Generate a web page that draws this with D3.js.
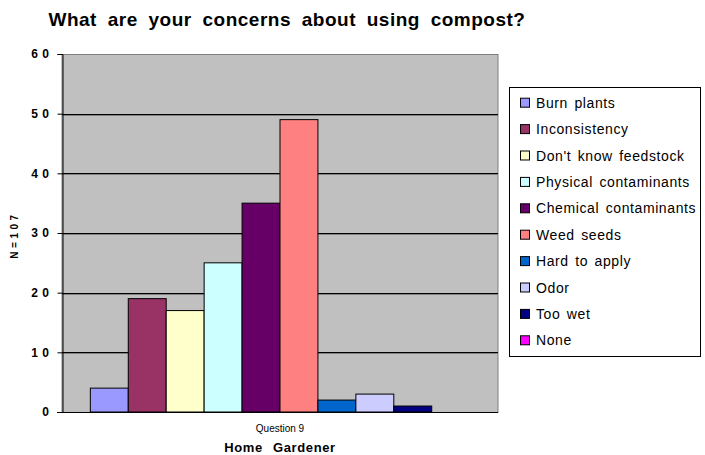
<!DOCTYPE html>
<html><head><meta charset="utf-8">
<script src="https://cdn.jsdelivr.net/npm/d3@7"></script>
<style>body{margin:0;background:#fff;} svg{display:block;font-family:"Liberation Sans",Arial,sans-serif;}</style>
</head><body>
<script>
const categories = ["Question 9"];
const seriesNames = ["Burn plants","Inconsistency","Don't know feedstock","Physical contaminants","Chemical contaminants","Weed seeds","Hard to apply","Odor","Too wet","None"];
const seriesValues = [4,19,17,25,35,49,2,3,1,0];
const seriesColors = ["#9999FF","#993366","#FFFFCC","#CCFFFF","#660066","#FF8080","#0066CC","#CCCCFF","#000080","#FF00FF"];
const yTicks = [0,10,20,30,40,50,60];
const title = "What are your concerns about using compost?";
const xTitle = "Home Gardener";
const yTitle = "N=107";

const W = 705, H = 455;
const plot = {left:62, right:498, top:54, bottom:412};
const svg = d3.select("body").append("svg").attr("width",W).attr("height",H);

const x0 = d3.scaleBand().domain(categories).range([plot.left, plot.right]).paddingInner(0).paddingOuter(0.0747);
const x1 = d3.scaleBand().domain(seriesNames).range([0, x0.bandwidth()]);
const y = d3.scaleLinear().domain([0,60]).range([plot.bottom, plot.top]);

// plot background
svg.append("rect").attr("x",plot.left).attr("y",plot.top+0.5).attr("width",plot.right-plot.left).attr("height",plot.bottom-plot.top)
  .attr("fill","#C0C0C0").attr("stroke","#808080").attr("stroke-width",1);

// gridlines (dark line with grey shadow)
const grid = svg.append("g");
const gv = yTicks.filter(d=>d>0 && d<60);
grid.selectAll("line.sh").data(gv).join("line").attr("class","sh")
  .attr("x1",plot.left).attr("x2",plot.right)
  .attr("y1",d=>Math.round(y(d))+1.5).attr("y2",d=>Math.round(y(d))+1.5)
  .attr("stroke","#808080").attr("stroke-width",1);
grid.selectAll("line.gl").data(gv).join("line").attr("class","gl")
  .attr("x1",plot.left).attr("x2",plot.right)
  .attr("y1",d=>Math.round(y(d))+0.5).attr("y2",d=>Math.round(y(d))+0.5)
  .attr("stroke","#000").attr("stroke-width",1);

// bars
const data = seriesNames.map((n,i)=>({name:n, value:seriesValues[i], color:seriesColors[i], cat:categories[0]}));
svg.append("g").selectAll("rect").data(data).join("rect")
  .attr("x",d=>x0(d.cat)+x1(d.name)).attr("width",x1.bandwidth())
  .attr("y",d=>y(d.value)).attr("height",d=>y(0)-y(d.value))
  .attr("fill",d=>d.color).attr("stroke","#000").attr("stroke-width",1);

// y axis
const yAxis = d3.axisLeft(y).tickValues(yTicks).tickSize(5).tickPadding(8).tickFormat(d=>String(d).split("").join(" "));
const yg = svg.append("g").attr("transform",`translate(${plot.left+0.5},0)`).call(yAxis);
yg.select(".domain").attr("stroke","#000");
yg.selectAll(".tick line").attr("stroke","#000");
yg.selectAll(".tick text").attr("font-size","12px").attr("font-weight","bold").attr("fill","#000")
  .attr("letter-spacing","0.5px").attr("font-family","Liberation Sans, Arial, sans-serif");

// x axis
const xAxis = d3.axisBottom(x0).tickSize(0).tickPadding(0);
const xg = svg.append("g").attr("transform",`translate(0,${plot.bottom+0.5})`).call(xAxis);
xg.select(".domain").attr("stroke","#000").attr("d",`M${plot.left-5},0H${plot.right}`);
xg.selectAll(".tick text").attr("font-size","10px").attr("fill","#000").attr("dy",null).attr("y",19.5)
  .attr("font-family","Liberation Sans, Arial, sans-serif");

// titles
svg.append("text").attr("x",287).attr("y",26).attr("text-anchor","middle")
  .attr("font-size","19px").attr("font-weight","bold").attr("letter-spacing","0.5px").attr("word-spacing","5px").text(title);
svg.append("text").attr("x",280).attr("y",452).attr("text-anchor","middle")
  .attr("font-size","13px").attr("font-weight","bold").attr("word-spacing","6px").attr("letter-spacing","0.6px").text(xTitle);
svg.append("text").attr("transform",`translate(18,${(plot.top+plot.bottom)/2+2}) rotate(-90)`).attr("text-anchor","middle")
  .attr("font-size","10px").attr("font-weight","bold").attr("letter-spacing","3.5px").text(yTitle);

// legend
const lg = svg.append("g");
lg.append("rect").attr("x",509.5).attr("y",87.5).attr("width",191).attr("height",269).attr("fill","#fff").attr("stroke","#000");
const items = lg.selectAll("g.item").data(data).join("g").attr("class","item")
  .attr("transform",(d,i)=>`translate(520,${102.7+i*26.4})`);
items.append("rect").attr("x",0.5).attr("y",-4.5).attr("width",9).attr("height",9).attr("fill",d=>d.color).attr("stroke","#000");
items.append("text").attr("x",16).attr("y",5).attr("font-size","14px").attr("letter-spacing","0.6px").attr("word-spacing","2px").text(d=>d.name);
</script>
</body></html>
